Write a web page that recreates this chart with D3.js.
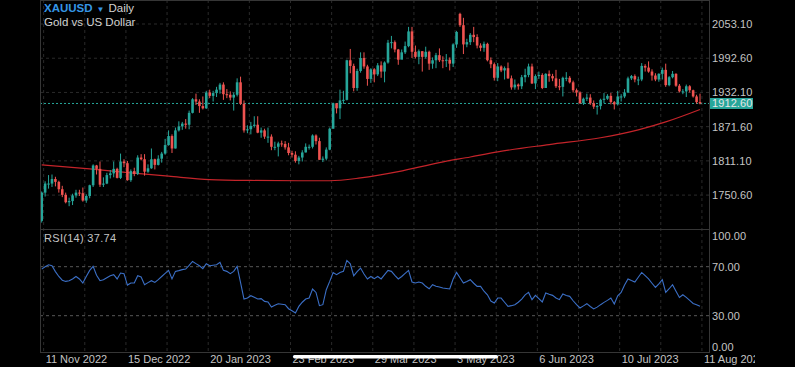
<!DOCTYPE html>
<html><head><meta charset="utf-8">
<script src="https://cdn.jsdelivr.net/npm/d3@7"></script>
<style>html,body{margin:0;background:#000;overflow:hidden}svg{display:block}text{font-family:"Liberation Sans",Arial,sans-serif}</style>
</head><body><svg id="c" width="795" height="367"></svg>
<script>
// ---- DATA (daily candles, 10 Nov 2022 .. 10 Aug 2023) ----
const open = [1705,1755,1771,1771,1779,1774,1761,1751,1738,1740, 1750,1755,1754,1741,1749,1768,1803,1797,1769,1771, 1786,1789,1797,1781,1810,1807,1777,1793,1788,1817, 1814,1792,1798,1814,1804,1815,1824,1839,1855,1833, 1865,1872,1877,1875,1896,1920,1916,1908,1904,1932, 1926,1931,1937,1946,1929,1928,1923,1928,1950,1912, 1865,1867,1873,1875,1861,1865,1854,1854,1836,1836, 1842,1841,1835,1825,1822,1811,1817,1826,1836,1836, 1856,1846,1813,1815,1831,1868,1913,1904,1918,1919, 1989,1979,1940,1970,1993,1978,1956,1973,1964,1980, 1969,1985,2020,2021,2008,1990,2003,2014,2040,2004, 1995,2005,1995,2004,1983,1989,1998,1989,1988,1990, 1983,2017,2071,2051,2017,2021,2034,2030,2015,2011, 2018,1989,1982,1958,1978,1971,1975,1957,1941,1946, 1943,1959,1963,1978,1948,1961,1963,1940,1965,1961, 1957,1943,1942,1958,1958,1950,1936,1932,1913,1921, 1923,1913,1907,1908,1919,1921,1926,1915,1911,1925, 1925,1932,1957,1961,1955,1955,1979,1976,1969,1962, 1955,1965,1972,1945,1959,1965,1944,1934,1934,1943, 1936,1925,1915];
const high = [1757,1775,1786,1787,1783,1776,1767,1755,1746,1753, 1760,1760,1764,1752,1769,1805,1804,1810,1782,1790, 1795,1810,1799,1824,1814,1811,1796,1799,1821,1823, 1823,1805,1833,1815,1821,1827,1850,1865,1858,1870, 1881,1880,1885,1900,1922,1930,1920,1925,1935,1937, 1935,1942,1949,1950,1938,1934,1932,1957,1960,1918, 1874,1880,1890,1890,1870,1868,1870,1858,1845,1845, 1847,1846,1843,1829,1828,1820,1830,1842,1840,1858, 1858,1852,1819,1835,1870,1914,1913,1937,1935,1990, 2009,1983,1974,2003,2003,1981,1975,1975,1984,1987, 1987,2025,2032,2024,2009,2008,2022,2048,2048,2015, 2008,2005,2013,2006,1994,2002,2010,1996,2000,1994, 2019,2041,2073,2064,2027,2037,2048,2035,2019,2022, 2020,1994,1985,1984,1980,1978,1985,1962,1955,1948, 1963,1974,1983,1983,1964,1969,1966,1966,1971,1965, 1972,1956,1960,1968,1961,1953,1939,1934,1923,1930, 1929,1918,1910,1921,1931,1929,1931,1917,1935,1929, 1938,1960,1963,1964,1960,1984,1982,1987,1973,1966, 1966,1976,1983,1961,1970,1966,1947,1938,1946,1945, 1937,1928,1930];
const low = [1702,1748,1762,1765,1766,1755,1747,1736,1731,1733, 1746,1749,1739,1737,1745,1765,1787,1765,1765,1770, 1780,1782,1780,1779,1800,1776,1774,1784,1786,1812, 1785,1790,1797,1796,1803,1808,1822,1838,1825,1833, 1863,1866,1868,1867,1895,1910,1896,1902,1903,1922, 1916,1924,1930,1919,1922,1918,1900,1925,1910,1861, 1860,1858,1870,1860,1852,1850,1843,1830,1830,1819, 1836,1831,1821,1817,1808,1805,1810,1826,1831,1833, 1840,1813,1809,1812,1830,1868,1895,1885,1912,1918, 1966,1934,1935,1967,1974,1944,1949,1950,1961,1958, 1950,1983,2010,2003,1981,1992,2000,2012,1993,1992, 1982,1969,1992,1972,1974,1975,1986,1975,1977,1971, 1977,2011,2048,2000,2012,2016,2021,2010,2005,2004, 1987,1975,1953,1952,1968,1955,1956,1937,1937,1937, 1938,1950,1959,1947,1938,1956,1938,1940,1951,1952, 1940,1936,1925,1952,1948,1932,1925,1912,1910,1917, 1910,1903,1893,1902,1913,1919,1911,1902,1909,1916, 1922,1931,1954,1950,1945,1952,1969,1967,1953,1952, 1951,1955,1942,1943,1957,1942,1932,1929,1924,1932, 1923,1912,1911];
const close = [1755,1771,1771,1779,1774,1761,1751,1738,1740,1750, 1755,1754,1741,1749,1768,1803,1797,1769,1771,1786, 1789,1797,1781,1810,1807,1777,1793,1788,1817,1814, 1792,1798,1814,1804,1815,1824,1839,1855,1833,1865, 1872,1877,1875,1896,1920,1916,1908,1904,1932,1926, 1931,1937,1946,1929,1928,1923,1928,1950,1912,1865, 1867,1873,1875,1861,1865,1854,1854,1836,1836,1842, 1841,1835,1825,1822,1811,1817,1826,1836,1836,1856, 1846,1813,1815,1831,1868,1913,1904,1918,1919,1989, 1979,1940,1970,1993,1978,1956,1973,1964,1980,1969, 1985,2020,2021,2008,1990,2003,2014,2040,2004,1995, 2005,1995,2004,1983,1989,1998,1989,1988,1990,1983, 2017,2039,2051,2017,2021,2034,2030,2015,2011,2018, 1989,1982,1958,1978,1971,1975,1957,1941,1946,1943, 1959,1963,1978,1948,1961,1963,1940,1965,1961,1957, 1943,1942,1958,1958,1950,1936,1932,1913,1921,1923, 1913,1907,1908,1919,1921,1926,1915,1911,1925,1925, 1932,1957,1961,1955,1955,1979,1976,1969,1962,1955, 1965,1972,1945,1959,1965,1944,1934,1934,1943,1936, 1925,1915,1912.6];
// moving average (read at sample candles): [candle index, price]
const maIdx = [0,14,26,37,49,61,75,84,93,104,116,125,133,148,163,174,182,192];
const maVal = [1804,1797,1790,1784,1778,1776.5,1776,1776,1781,1792,1808,1818,1827,1840,1852,1866,1880,1902];
// RSI(14) per candle
const rsi = [68,70,71.6,70.8,66,62,59,58,58.6,60, 62,60,56.7,62,67,70.3,63,58.6,59.4,61, 62.6,63.5,60,64.8,64.3,55,56.7,56.7,62.6,61.6, 55.3,57,58.6,57.2,59.5,62,64.5,67,60,66.2, 66.8,67.6,68.1,71,74.3,72.5,70.8,68.4,72.4,70.8, 71.2,71.6,73.5,67,66.2,64.3,66.2,70.2,57,43.6, 44.4,46.3,45,43.6,43.9,41.7,41.2,37.1,38.5,39.8, 39.4,39,35.7,34,32.2,37.6,41,43.6,44.4,51.8, 49,38.2,39,51.2,58,65.3,63.5,65.3,66.2,75.1, 72.4,62.6,66,68.9,64,60,62,60.2,62,60, 63.5,67,66.2,63,60,62,64.5,67,57.5,56.7, 57.5,56.7,54,52,55.3,54,53.4,52.6,52.2,51.8, 60,65.3,61,56.7,58,59.4,56.5,53.9,53.9,50, 47.1,42,40.4,44.4,44.4,41,37.6,38.2,39,41, 43.6,47,49,43.1,46.6,44,41.2,48.5,47.5,46.6, 44.5,43.1,47.7,46.5,45.8,42.2,39,36.3,38,39.8, 37.5,35.5,37,39,40.9,42.5,44.4,39.6,46.3,49, 55,60,58.7,57.5,61.4,65.3,62.7,60,56.5,53.1, 56,59.4,49,52,55.3,50,44.9,47.1,45,42.5, 40,39,37.7];
const priceTicks = [2053.10,1992.60,1932.10,1871.60,1811.10,1750.60];
const rsiTicks = [100,70,30,0];
const dateLabels = ["11 Nov 2022","15 Dec 2022","20 Jan 2023","23 Feb 2023","29 Mar 2023","3 May 2023","6 Jun 2023","10 Jul 2023","11 Aug 2023"];
const dateIdx = [1,25,49,73,97,121,145,169,193];
const lastPrice = 1912.60;
const rsiLast = 37.74;

// ---- LAYOUT ----
const L=40, R=709, MT=0, MB=229, RB=352;
const svg = d3.select("#c");
const x = d3.scaleLinear().domain([0,192]).range([41.7,700]);
const y = d3.scaleLinear().domain([1750.6,2053.1]).range([195.1,24]);
const yr = d3.scaleLinear().domain([30,70]).range([315.7,266.7]);
const GRID="#2a2a2a", FRAME="#363636", TXT="#c4c4c4";
const UP="#26a69a", DN="#ef5350";

const defs = svg.append("defs");
defs.append("clipPath").attr("id","mainClip").append("rect").attr("x",L).attr("y",MT).attr("width",R-L).attr("height",MB-MT);
defs.append("clipPath").attr("id","rsiClip").append("rect").attr("x",L).attr("y",MB).attr("width",R-L).attr("height",RB-MB);
defs.append("clipPath").attr("id","axClip").append("rect").attr("x",0).attr("y",352).attr("width",755).attr("height",15);

// vertical grid
const gridIdx = d3.range(dateIdx[0], dateIdx[dateIdx.length-1]+1, 12);
svg.append("g").selectAll("line").data(gridIdx).join("line")
  .attr("x1",d=>x(d)-1.5).attr("x2",d=>x(d)-1.5).attr("y1",MT).attr("y2",RB)
  .attr("stroke",GRID).attr("stroke-dasharray","3,3");
// horizontal grid (price)
svg.append("g").selectAll("line").data(priceTicks).join("line")
  .attr("x1",L).attr("x2",R).attr("y1",d=>y(d)).attr("y2",d=>y(d))
  .attr("stroke",GRID).attr("stroke-dasharray","3,3");
// RSI 70 / 30
svg.append("g").selectAll("line").data([70,30]).join("line")
  .attr("x1",L).attr("x2",R).attr("y1",d=>yr(d)).attr("y2",d=>yr(d))
  .attr("stroke","#585858").attr("stroke-dasharray","3,3");

// moving average
const gMain = svg.append("g").attr("clip-path","url(#mainClip)");
gMain.append("path").datum(d3.range(maIdx.length))
  .attr("d", d3.line().x(i=>x(maIdx[i])).y(i=>y(maVal[i])).curve(d3.curveMonotoneX))
  .attr("fill","none").attr("stroke","#c4242a").attr("stroke-width",1.2);

// price line
gMain.append("line").attr("x1",L).attr("x2",R).attr("y1",y(lastPrice)).attr("y2",y(lastPrice))
  .attr("stroke",UP).attr("stroke-dasharray","2,2").attr("stroke-width",1);

// candles
const idx = d3.range(close.length);
const cg = gMain.append("g");
cg.selectAll("line").data(idx).join("line")
  .attr("x1",i=>x(i)).attr("x2",i=>x(i)).attr("y1",i=>y(high[i])).attr("y2",i=>y(low[i]))
  .attr("stroke",i=>close[i]>=open[i]?UP:DN).attr("stroke-width",1);
cg.selectAll("rect").data(idx).join("rect")
  .attr("x",i=>x(i)-1.3).attr("width",2.6)
  .attr("y",i=>y(Math.max(open[i],close[i])))
  .attr("height",i=>Math.max(1,Math.abs(y(open[i])-y(close[i]))))
  .attr("fill",i=>close[i]>=open[i]?UP:DN);

// RSI line
svg.append("g").attr("clip-path","url(#rsiClip)").append("path").datum(idx)
  .attr("d", d3.line().x(i=>x(i)).y(i=>yr(rsi[i])))
  .attr("fill","none").attr("stroke","#3b6fc6").attr("stroke-width",1.1);

// frame
const fr = svg.append("g").attr("stroke",FRAME).attr("stroke-width",1);
fr.append("line").attr("x1",L+0.5).attr("x2",L+0.5).attr("y1",0).attr("y2",RB+0.5);
fr.append("line").attr("x1",R+0.5).attr("x2",R+0.5).attr("y1",0).attr("y2",RB+0.5);
fr.append("line").attr("x1",L).attr("x2",R+1).attr("y1",0.5).attr("y2",0.5);
fr.append("line").attr("x1",L).attr("x2",R+1).attr("y1",MB+0.5).attr("y2",MB+0.5);
fr.append("line").attr("x1",L).attr("x2",R+1).attr("y1",RB+0.5).attr("y2",RB+0.5);

// price axis labels
svg.append("g").selectAll("text").data(priceTicks).join("text")
  .attr("x",712).attr("y",d=>y(d)).attr("dy","0.35em")
  .attr("font-size",11).attr("fill",TXT).attr("letter-spacing",0.1)
  .text(d=>d.toFixed(2));
// last price tag
svg.append("rect").attr("x",R+1).attr("y",y(lastPrice)-5.5).attr("width",43).attr("height",11).attr("fill",UP);
svg.append("text").attr("x",712).attr("y",y(lastPrice)).attr("dy","0.35em")
  .attr("font-size",11).attr("fill","#e6e6e6").attr("letter-spacing",0.1).text(lastPrice.toFixed(2));

// RSI axis labels (edge labels kept inside the panel)
svg.append("g").selectAll("text").data(rsiTicks).join("text")
  .attr("x",712).attr("y",d=>yr(d) + (d===100?6:d===0?-5:0)).attr("dy","0.35em")
  .attr("font-size",11).attr("fill",TXT).attr("letter-spacing",0.1)
  .text(d=>d.toFixed(2));

// date labels
svg.append("g").attr("clip-path","url(#axClip)").selectAll("text").data(dateLabels).join("text")
  .attr("x",(d,i)=>x(dateIdx[i])+0.5).attr("y",363)
  .attr("font-size",11).attr("fill",TXT)
  .text(d=>d);

// titles
const t1 = svg.append("text").attr("x",44).attr("y",12).attr("font-size",11.5);
t1.append("tspan").attr("fill","#3596e6").attr("font-weight","bold").text("XAUUSD");
t1.append("tspan").attr("fill","#3596e6").attr("font-size",8).attr("dx",4).text("▼");
t1.append("tspan").attr("fill","#d2d2d2").attr("dx",4).text("Daily");
svg.append("text").attr("x",44).attr("y",25.5).attr("font-size",11.5).attr("fill","#d2d2d2").text("Gold vs US Dollar");
svg.append("text").attr("x",44).attr("y",242).attr("font-size",11).attr("fill",TXT).attr("letter-spacing",0.3)
  .text("RSI(14) " + rsiLast.toFixed(2));

// device home indicator overlay
svg.append("rect").attr("x",293).attr("y",355).attr("width",205).attr("height",3.4).attr("rx",1.7).attr("fill","#ffffff");
</script></body></html>
